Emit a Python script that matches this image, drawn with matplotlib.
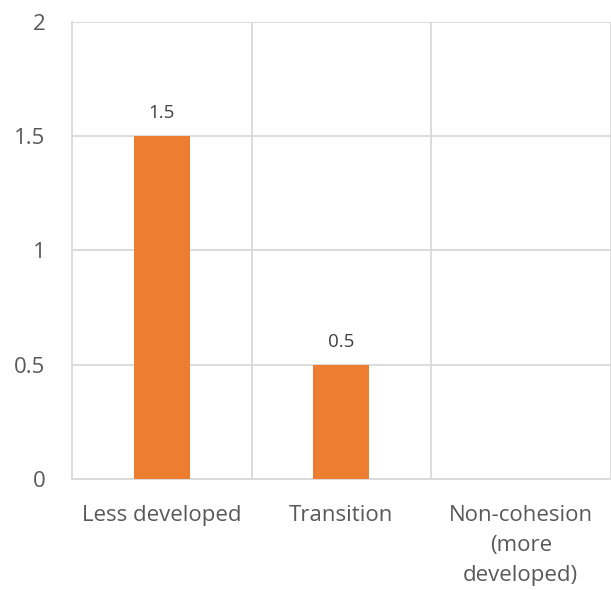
import numpy as np
import matplotlib.pyplot as plt

categories = ['Less developed', 'Transition', 'Non-cohesion\n(more\ndeveloped)']
values = [1.5, 0.5, np.nan]
y_ticks = [0, 0.5, 1, 1.5, 2]
y_tick_labels = ['0', '0.5', '1', '1.5', '2']

plt.rcParams['font.family'] = ['Open Sans', 'DejaVu Sans']

fig = plt.figure(figsize=(6.11, 5.9), dpi=100)
ax = fig.add_axes([72 / 611, 1 - 479 / 590, (610.5 - 72) / 611, (479 - 21.5) / 590])

x = np.arange(len(categories))
bars = ax.bar(x, values, width=0.31, color='#ED7D31', zorder=3)
for xi, v in zip(x, values):
    if not np.isnan(v):
        ax.text(xi, v + 0.06, f'{v:g}', ha='center', va='bottom', fontsize=13.5, color='#404040')

grid_col = '#d9d9d9'
ax.set_xlim(-0.5, len(categories) - 0.5)
ax.set_ylim(0, 2)
ax.set_yticks(y_ticks)
ax.set_yticklabels(y_tick_labels)
ax.set_xticks(x)
ax.set_xticklabels(categories, linespacing=1.55)
ax.yaxis.grid(True, color=grid_col, linewidth=1.3, zorder=0)
for b in np.arange(0.5, len(categories) - 0.5 + 0.01, 1.0):
    ax.axvline(b, color=grid_col, linewidth=1.3, zorder=0)
for side in ['top', 'right']:
    ax.spines[side].set_visible(False)
ax.spines['left'].set_color(grid_col)
ax.spines['bottom'].set_color(grid_col)
ax.spines['left'].set_linewidth(1.3)
ax.spines['bottom'].set_linewidth(1.3)
ax.tick_params(axis='both', length=0, labelsize=16, colors='#595959')
ax.tick_params(axis='y', pad=19)
ax.tick_params(axis='x', pad=19)

fig.savefig('out.png', dpi=100)
